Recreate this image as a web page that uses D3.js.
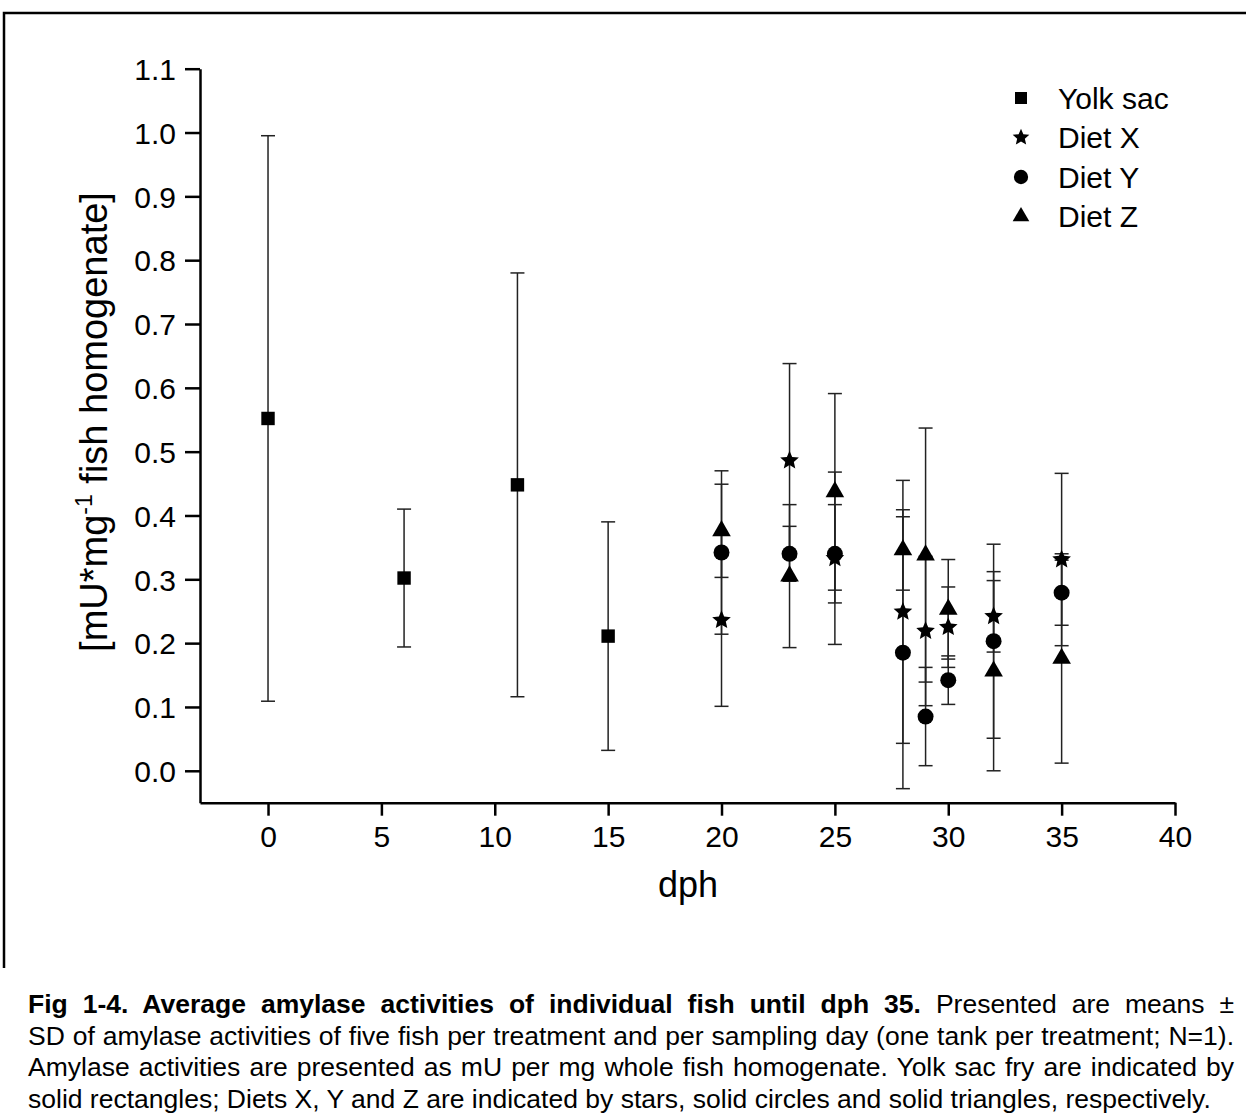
<!doctype html>
<html>
<head>
<meta charset="utf-8">
<style>
  body { margin: 0; background: #fff; }
  text { font-family: "Liberation Sans", Arial, sans-serif; fill: #000; }
</style>
<script src="https://d3js.org/d3.v7.min.js"></script>
</head>
<body>
<svg width="1246" height="1120"></svg>
<script>
// days post hatch
var yolkDays = [0, 6, 11, 15];
var yolkMean = [0.552, 0.302, 0.448, 0.211];
var yolkSD   = [0.443, 0.108, 0.332, 0.179];

var dietDays  = [20, 23, 25, 28, 29, 30, 32, 35];
var dietXMean = [0.236, 0.486, 0.333, 0.249, 0.219, 0.225, 0.242, 0.331];
var dietXSD   = [0.135, 0.152, 0.135, 0.206, 0.117, 0.063, 0.056, 0.135];
var dietYMean = [0.342, 0.340, 0.340, 0.185, 0.085, 0.142, 0.203, 0.279];
var dietYSD   = [0.128, 0.043, 0.077, 0.213, 0.077, 0.038, 0.152, 0.051];
var dietZMean = [0.376, 0.305, 0.437, 0.346, 0.338, 0.253, 0.156, 0.176];
var dietZSD   = [0.073, 0.112, 0.154, 0.063, 0.199, 0.078, 0.156, 0.164];

var xTicks = [0, 5, 10, 15, 20, 25, 30, 35, 40];
var yTicks = [0, 0.1, 0.2, 0.3, 0.4, 0.5, 0.6, 0.7, 0.8, 0.9, 1.0, 1.1];

var seriesNames = ["Yolk sac", "Diet X", "Diet Y", "Diet Z"];

var svg = d3.select("svg");

// frame round the figure
svg.append("path")
   .attr("d", "M4,968V13H1246")
   .attr("fill", "none")
   .attr("stroke", "#000")
   .attr("stroke-width", 2.5);

var x = d3.scaleLinear().domain([-3, 40]).range([200, 1175]);
var y = d3.scaleLinear().domain([-0.05, 1.1]).range([802.7, 68.7]);

var xAxis = svg.append("g")
   .attr("transform", "translate(0,802.7)")
   .call(d3.axisBottom(x).tickValues(xTicks).tickSizeInner(13).tickSizeOuter(0).tickPadding(10));
var yAxis = svg.append("g")
   .attr("transform", "translate(200,0)")
   .call(d3.axisLeft(y).tickValues(yTicks).tickFormat(d3.format(".1f")).tickSizeInner(15).tickSizeOuter(0).tickPadding(9));

[xAxis, yAxis].forEach(function(a) {
    a.select(".domain").attr("stroke-width", 2.5);
    a.selectAll(".tick line").attr("stroke-width", 2.5);
    a.selectAll(".tick text").attr("font-size", 30).attr("font-family", "Liberation Sans, Arial, sans-serif");
});
yAxis.selectAll(".tick text").attr("dy", "0.36em");

svg.append("text")
   .attr("x", 688).attr("y", 897)
   .attr("text-anchor", "middle")
   .attr("font-size", 36)
   .text("dph");

var yl = svg.append("text")
   .attr("transform", "translate(107,422) rotate(-90)")
   .attr("text-anchor", "middle")
   .attr("font-size", 38);
yl.append("tspan").text("[mU*mg");
yl.append("tspan").attr("dy", -15).attr("font-size", 23).text("-1");
yl.append("tspan").attr("dy", 15).text(" fish homogenate]");

// a fatter five point star than d3.symbolStar
var fatStar = {
    draw: function(ctx, size) {
        var r = Math.sqrt(size) * 0.62, ri = r * 0.46;
        for (var k = 0; k < 10; k++) {
            var rr = k % 2 ? ri : r, a = -Math.PI / 2 + k * Math.PI / 5;
            if (k === 0) ctx.moveTo(rr * Math.cos(a), rr * Math.sin(a));
            else ctx.lineTo(rr * Math.cos(a), rr * Math.sin(a));
        }
        ctx.closePath();
    }
};

function build(days, mean, sd) {
    return days.map(function(d, i) { return { day: d, m: mean[i], sd: sd[i] }; });
}
var series = [
    { name: seriesNames[0], sym: d3.symbolSquare,   size: 180, data: build(yolkDays, yolkMean, yolkSD) },
    { name: seriesNames[1], sym: fatStar,           size: 250, data: build(dietDays, dietXMean, dietXSD) },
    { name: seriesNames[2], sym: d3.symbolCircle,   size: 200, data: build(dietDays, dietYMean, dietYSD) },
    { name: seriesNames[3], sym: d3.symbolTriangle, size: 150, data: build(dietDays, dietZMean, dietZSD) }
];

var capW = 7;
var bars = svg.append("g").attr("stroke", "#222").attr("stroke-width", 1.5).attr("fill", "none");
series.forEach(function(s) {
    var g = bars.selectAll(null).data(s.data).enter().append("g");
    g.append("line")
     .attr("x1", function(d) { return x(d.day); })
     .attr("x2", function(d) { return x(d.day); })
     .attr("y1", function(d) { return y(d.m + d.sd); })
     .attr("y2", function(d) { return y(d.m - d.sd); });
    g.append("line")
     .attr("x1", function(d) { return x(d.day) - capW; })
     .attr("x2", function(d) { return x(d.day) + capW; })
     .attr("y1", function(d) { return y(d.m + d.sd); })
     .attr("y2", function(d) { return y(d.m + d.sd); });
    g.append("line")
     .attr("x1", function(d) { return x(d.day) - capW; })
     .attr("x2", function(d) { return x(d.day) + capW; })
     .attr("y1", function(d) { return y(d.m - d.sd); })
     .attr("y2", function(d) { return y(d.m - d.sd); });
});

series.forEach(function(s) {
    svg.selectAll(null).data(s.data).enter().append("path")
       .attr("d", d3.symbol().type(s.sym).size(s.size))
       .attr("transform", function(d) { return "translate(" + x(d.day) + "," + y(d.m) + ")"; })
       .attr("fill", "#000");
});

// legend
var leg = svg.append("g");
series.forEach(function(s, i) {
    var ly = 98 + i * 39.5;
    leg.append("path")
       .attr("d", d3.symbol().type(s.sym).size(s.size * 0.8))
       .attr("transform", "translate(1021," + ly + ")")
       .attr("fill", "#000");
    leg.append("text")
       .attr("x", 1058).attr("y", ly)
       .attr("dy", "0.36em")
       .attr("font-size", 30)
       .text(s.name);
});

// caption
var capLines = [
    [["Fig 1-4. Average amylase activities of individual fish until dph 35.", true], [" Presented are means \u00b1", false]],
    [["SD of amylase activities of five fish per treatment and per sampling day (one tank per treatment; N=1).", false]],
    [["Amylase activities are presented as mU per mg whole fish homogenate. Yolk sac fry are indicated by", false]],
    [["solid rectangles; Diets X, Y and Z are indicated by stars, solid circles and solid triangles, respectively.", false]]
];
var capLeft = 28, capRight = 1234;
capLines.forEach(function(parts, i) {
    var t = svg.append("text")
       .attr("x", capLeft)
       .attr("y", 1013 + i * 31.5)
       .attr("font-size", 26.5);
    parts.forEach(function(p) {
        t.append("tspan").attr("font-weight", p[1] ? "bold" : "normal").text(p[0]);
    });
    if (i < capLines.length - 1) {
        var full = parts.map(function(p) { return p[0]; }).join("");
        var spaces = full.split(" ").length - 1;
        var w = t.node().getComputedTextLength();
        t.attr("word-spacing", (capRight - capLeft - w) / spaces);
    }
});
</script>
</body>
</html>
